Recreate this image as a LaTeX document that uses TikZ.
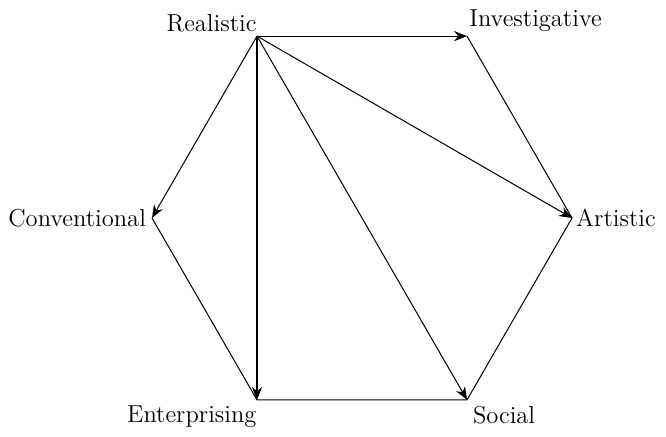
\documentclass[tikz,border=0pt]{standalone}
\usetikzlibrary{arrows.meta}
\begin{document}
\begin{tikzpicture}[>={Stealth[length=7pt,width=5.5pt]},line width=0.55pt,font=\fontsize{13.3}{15}\selectfont]
					\useasboundingbox (-6.895,-4.171) rectangle (5.790,4.152);
					\coordinate (R) at (120:4);
					\coordinate (I) at (60:4);
					\coordinate (A) at (0:4);
					\coordinate (S) at (-60:4);
					\coordinate (E) at (-120:4);
					\coordinate (C) at (180:4);
					\node[above left,inner xsep=0pt,inner ysep=2pt] (Rl) at (R) {Realistic};
					\node[above right,inner xsep=1pt,inner ysep=2pt] (Il) at (I) {Investigative};
					\node[right,inner sep=2pt] (Al) at (A) {Artistic};
					\node[below right,inner sep=3pt] (Sl) at (S) {Social};
					\node[below left,inner xsep=0pt,inner ysep=3pt] (El) at (E) {Enterprising};
					\node[left,inner sep=3pt] (Cl) at (C) {Conventional};
					\draw[->] (R)--(I);
					\draw[->] (R)--(A);
					\draw[->] (R)--(S);
					\draw[->] (R)--(E);
					\draw[->] (R)--(C);
					\draw (I)--(A)--(S)--(E)--(C);
				\end{tikzpicture}
\end{document}
